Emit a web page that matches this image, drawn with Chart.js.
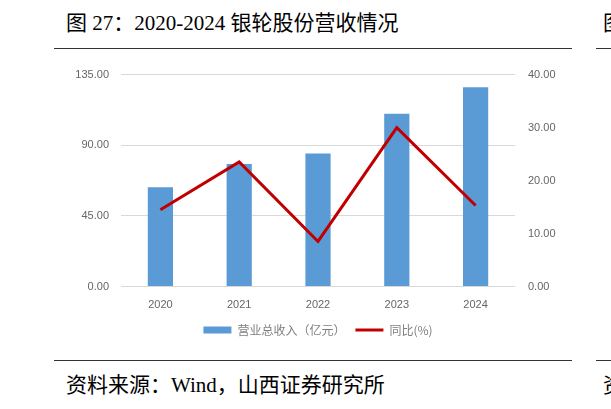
<!DOCTYPE html>
<html>
<head>
<meta charset="utf-8">
<script src="https://cdn.jsdelivr.net/npm/chart.js@4.4.0/dist/chart.umd.min.js"></script>
<style>
  html, body { margin: 0; padding: 0; background: #fff; }
  body { width: 611px; height: 409px; position: relative; overflow: hidden; }
  .cap {
    position: absolute; white-space: nowrap; color: #000;
    font-family: "Liberation Serif", "Noto Sans CJK SC", serif; font-size: 21px; line-height: 24px;
  }
  .rule { position: absolute; height: 1px; background: #333; }
  #wrap { position: absolute; left: 0; top: 55px; width: 611px; height: 300px; }
</style>
</head>
<body>
<div class="cap" style="left:66px; top:11px;">图 27：2020-2024 银轮股份营收情况</div>
<div class="cap" style="left:603px; top:11px;">图</div>
<div class="rule" style="left:54px; width:518px; top:48px;"></div>
<div class="rule" style="left:596px; width:15px; top:48px;"></div>

<div id="wrap"><canvas id="revChart"></canvas></div>

<div class="rule" style="left:54px; width:518px; top:360px;"></div>
<div class="rule" style="left:596px; width:15px; top:360px;"></div>
<div class="cap" style="left:66px; top:373px;">资料来源：Wind，山西证券研究所</div>
<div class="cap" style="left:603px; top:373px;">资</div>

<script>
// Revenue data
const years = ['2020', '2021', '2022', '2023', '2024'];
const revenue = [63.3, 78.0, 84.7, 110.0, 127.0];   // 营业总收入（亿元）
const yoyGrowth = [14.5, 23.5, 8.5, 30.0, 15.3];    // 同比(%)
const leftTicks = [0, 45, 90, 135];
const rightTicks = [0, 10, 20, 30, 40];

const tickFont = { family: '"Liberation Sans", "Noto Sans", sans-serif', size: 11 };
const tickColor = '#666666';

function initRevenueChart() {
  const ctx = document.getElementById('revChart');

  new Chart(ctx, {
    data: {
      labels: years,
      datasets: [{
        type: 'line',
        label: '同比(%)',
        data: yoyGrowth,
        yAxisID: 'y1',
        borderColor: '#c00000',
        backgroundColor: '#c00000',
        borderWidth: 3,
        pointRadius: 0,
        tension: 0,
        order: 0
      }, {
        type: 'bar',
        label: '营业总收入（亿元）',
        data: revenue,
        yAxisID: 'y',
        backgroundColor: '#5b9bd5',
        categoryPercentage: 1,
        barPercentage: 0.32,
        order: 1
      }]
    },
    options: {
      responsive: true,
      maintainAspectRatio: false,
      animation: false,
      layout: {
        padding: { top: 18, left: 61, right: 51, bottom: 9 }
      },
      plugins: {
        tooltip: { enabled: false },
        legend: {
          position: 'bottom',
          fullSize: false,
          labels: {
            usePointStyle: true,
            pointStyleWidth: 28,
            boxHeight: 7,
            padding: 10,
            color: '#7f7f7f',
            font: { family: '"Noto Sans CJK SC", sans-serif', size: 12 },
            generateLabels: function() {
              return [
                { text: '营业总收入（亿元）', pointStyle: 'rect', fillStyle: '#5b9bd5', strokeStyle: '#5b9bd5', lineWidth: 0, fontColor: '#7f7f7f', datasetIndex: 1 },
                { text: '同比(%)', pointStyle: 'line', fillStyle: '#c00000', strokeStyle: '#c00000', lineWidth: 3, fontColor: '#7f7f7f', datasetIndex: 0 }
              ];
            }
          }
        }
      },
      scales: {
        x: {
          grid: { display: false },
          border: { display: false },
          ticks: { color: tickColor, font: tickFont, padding: 4 },
          afterFit: function(scale) { scale.height = 27.5; }
        },
        y: {
          position: 'left',
          min: 0,
          max: 135,
          afterBuildTicks: function(scale) { scale.ticks = leftTicks.map(v => ({ value: v })); },
          ticks: {
            color: tickColor,
            font: tickFont,
            padding: 12,
            callback: function(value) { return value.toFixed(2); }
          },
          grid: { color: '#d9d9d9', drawTicks: false },
          border: { display: false },
          afterFit: function(scale) { scale.width = 60; }
        },
        y1: {
          position: 'right',
          min: 0,
          max: 40,
          afterBuildTicks: function(scale) { scale.ticks = rightTicks.map(v => ({ value: v })); },
          ticks: {
            color: tickColor,
            font: tickFont,
            padding: 13,
            callback: function(value) { return value.toFixed(2); }
          },
          grid: { display: false, drawTicks: false },
          border: { display: false },
          afterFit: function(scale) { scale.width = 45; }
        }
      }
    }
  });
}

document.addEventListener('DOMContentLoaded', initRevenueChart);
</script>
</body>
</html>
